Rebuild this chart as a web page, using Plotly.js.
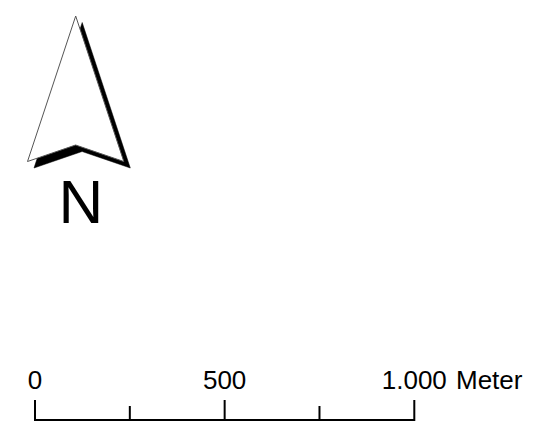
<!DOCTYPE html>
<html>
<head>
<meta charset="utf-8">
<script src="https://cdn.plot.ly/plotly-3.0.1.min.js"></script>
<style>
  html, body { margin: 0; padding: 0; background: #ffffff; }
  #chart { width: 541px; height: 427px; }
</style>
</head>
<body>
<div id="chart"></div>
<script>
// ---- Data ----
const scaleTicks = [0, 250, 500, 750, 1000];       // meters
const majorTicks = [0, 500, 1000];
const minorTicks = [250, 750];
const tickLabels = ["0", "500", "1.000"];
const unitLabel = "Meter";
const northLabel = "N";

// North arrow outline (page pixel units)
const arrowX = [75.7, 27.5, 75.6, 123.8, 75.7];
const arrowY = [16.0, 161.5, 145.0, 161.5, 16.0];
const shadowOffset = 6.5;

// ---- Layout geometry ----
const W = 541, H = 427;
const barLeftPx = 35, barRightPx = 414.3;
const pxPerMeter = (barRightPx - barLeftPx) / 1000;
const x2Range = [-barLeftPx / pxPerMeter, (W - barLeftPx) / pxPerMeter];
const barY = 420, majorTop = 400, minorTop = 406;
const labelSize = 26, labelBaseline = 388.8;
const northSize = 62, northBaseline = 223;
// plotly 'middle' text: baseline = y + 0.25 * fontSize
const labelY = labelBaseline - 0.25 * labelSize;
const northY = northBaseline - 0.25 * northSize;

// scale bar main path: left tick, bar, right tick
const mainX = [majorTicks[0], majorTicks[0], majorTicks[2], majorTicks[2]];
const mainY = [majorTop, barY, barY, majorTop];

// inner ticks
const innerX = [], innerY = [];
minorTicks.forEach(t => { innerX.push(t, t, null); innerY.push(barY, minorTop, null); });
innerX.push(majorTicks[1], majorTicks[1], null); innerY.push(barY, majorTop, null);

const font = "Liberation Sans, Arial, sans-serif";

const traces = [
  { // shadow
    x: arrowX.map(v => v + shadowOffset), y: arrowY.map(v => v + shadowOffset),
    xaxis: 'x', yaxis: 'y', mode: 'lines', fill: 'toself', fillcolor: '#000000',
    line: { color: '#000000', width: 0.5 }, hoverinfo: 'skip', showlegend: false
  },
  { // arrow
    x: arrowX, y: arrowY,
    xaxis: 'x', yaxis: 'y', mode: 'lines', fill: 'toself', fillcolor: '#ffffff',
    line: { color: '#555555', width: 1 }, hoverinfo: 'skip', showlegend: false
  },
  { // N
    x: [80.8], y: [northY], xaxis: 'x', yaxis: 'y', mode: 'text', text: [northLabel],
    textposition: 'middle center', textfont: { family: font, size: northSize, color: '#000000' },
    cliponaxis: false, hoverinfo: 'skip', showlegend: false
  },
  { // bar
    x: mainX, y: mainY, xaxis: 'x2', yaxis: 'y', mode: 'lines',
    line: { color: '#000000', width: 2 }, hoverinfo: 'skip', showlegend: false
  },
  { // inner ticks
    x: innerX, y: innerY, xaxis: 'x2', yaxis: 'y', mode: 'lines', connectgaps: false,
    line: { color: '#000000', width: 2 }, hoverinfo: 'skip', showlegend: false
  },
  { // labels
    x: majorTicks, y: majorTicks.map(() => labelY), xaxis: 'x2', yaxis: 'y',
    mode: 'text', text: tickLabels, textposition: 'middle center',
    textfont: { family: font, size: labelSize, color: '#000000' },
    cliponaxis: false, hoverinfo: 'skip', showlegend: false
  }
];

const layout = {
  width: W, height: H,
  margin: { l: 0, r: 0, t: 0, b: 0, pad: 0 },
  paper_bgcolor: '#ffffff', plot_bgcolor: '#ffffff',
  showlegend: false,
  xaxis: { range: [0, W], visible: false, fixedrange: true },
  xaxis2: { range: x2Range, overlaying: 'x', visible: false, fixedrange: true },
  yaxis: { range: [H, 0], visible: false, fixedrange: true },
  annotations: [{
    x: majorTicks[2], y: 379.5, xref: 'x2', yref: 'y',
    text: unitLabel, showarrow: false, xanchor: 'left', yanchor: 'middle',
    xshift: 39.5, font: { family: font, size: labelSize, color: '#000000' }
  }]
};

Plotly.newPlot('chart', traces, layout, { staticPlot: true, displayModeBar: false });
</script>
</body>
</html>
